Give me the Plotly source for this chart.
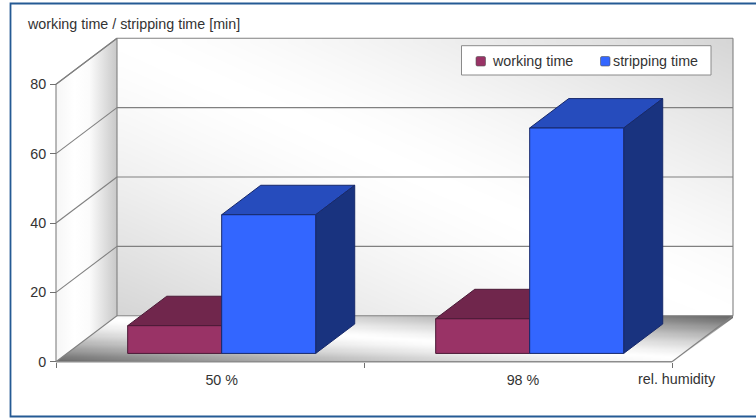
import numpy as np
import plotly.graph_objects as go

# Chart data
categories = ["50 %", "98 %"]
series_names = ["working time", "stripping time"]
working_time = [8, 10]
stripping_time = [40, 65]
y_ticks = [0, 20, 40, 60, 80]

# Page and plot geometry in pixels
W, H = 756, 418
X0_PX, X1_PX = 56, 672
Y0_PX, Y80_PX = 361.7, 84.3
PX_X = (X1_PX - X0_PX) / len(categories)
PX_Y = (Y0_PX - Y80_PX) / 80

# Oblique projection: depth 0 is the front plane, depth 1 the back wall
DX = 61 / PX_X
DY = 46 / PX_Y
BAR_W = 94 / PX_X
BAR_SHIFT = 0.7 / PX_X
D_NEAR, D_FAR = 0.18, 0.82
Y_TOP = 80
LABEL_POS = [0.538, 1.516]


def project(x, v, d):
    return x + d * DX, v + d * DY


def poly(points, **kw):
    xs, ys = zip(*[project(*p) for p in points])
    return go.Scatter(
        x=list(xs) + [xs[0]], y=list(ys) + [ys[0]], mode="lines", fill="toself",
        hoverinfo="skip", showlegend=False, **kw,
    )


def segment(p, q, color="#808080", width=1.1):
    xs, ys = zip(project(*p), project(*q))
    return go.Scatter(x=list(xs), y=list(ys), mode="lines", hoverinfo="skip", showlegend=False,
                      line=dict(color=color, width=width))


GRAY_SCALE = [[0, "#000000"], [1, "#ffffff"]]
fig = go.Figure()

# Back wall shading: light along one diagonal, grey towards the other two corners
nx, ny = 60, 40
xe = np.linspace(0, 2, nx + 1) + DX
ye = np.linspace(0, Y_TOP, ny + 1) + DY
uu, vv = np.meshgrid((np.arange(nx) + 0.5) / nx, (np.arange(ny) + 0.5) / ny)
wall = 255 - 42 * np.abs(uu + vv - 1) ** 1.4
fig.add_trace(go.Heatmap(x=xe, y=ye, z=wall, zmin=0, zmax=255, colorscale=GRAY_SCALE,
                         zsmooth="best", showscale=False, hoverinfo="skip"))

# Floor shading over the bounding box of the floor
fx = np.linspace(0, 2 + DX, nx + 1)
fy = np.linspace(0, DY, ny + 1)
uu, vv = np.meshgrid((np.arange(nx) + 0.5) / nx, (np.arange(ny) + 0.5) / ny)
floor = 255 - 155 * np.abs(uu + vv - 1) ** 1.35
fig.add_trace(go.Heatmap(x=fx, y=fy, z=floor, zmin=0, zmax=255, colorscale=GRAY_SCALE,
                         zsmooth="best", showscale=False, hoverinfo="skip"))

# Mask the floor's bounding box outside the parallelogram
fig.add_trace(go.Scatter(x=[2, 2 + DX + 0.01, 2 + DX + 0.01, 2], y=[-0.3, DY, -0.3, -0.3],
                         mode="lines", fill="toself", fillcolor="#ffffff",
                         line=dict(color="#ffffff", width=0), hoverinfo="skip", showlegend=False))

# Side wall with a horizontal shading
fig.add_trace(poly([(0, 0, 0), (0, Y_TOP, 0), (0, Y_TOP, 1), (0, 0, 1)],
                   line=dict(color="#808080", width=1.1),
                   fillgradient=dict(type="horizontal", colorscale=[
                       [0, "#f6f6f6"], [0.3, "#ffffff"], [0.55, "#fbfbfb"], [1, "#c8c8c8"]])))

# Gridlines on the side wall and back wall, then the box outline
for v in y_ticks[1:]:
    fig.add_trace(segment((0, v, 0), (0, v, 1)))
    fig.add_trace(segment((0, v, 1), (2, v, 1)))
fig.add_trace(segment((0, 0, 1), (2, 0, 1)))
fig.add_trace(segment((2, 0, 1), (2, Y_TOP, 1)))
fig.add_trace(segment((0, 0, 0), (2, 0, 0), color="#8c8c8c", width=1.5))
fig.add_trace(segment((2, 0, 0), (2, 0, 1)))


def bar(left, height, front, top, side, edge):
    right = left + BAR_W
    fig.add_trace(poly([(left, height, D_NEAR), (left, height, D_FAR), (right, height, D_FAR), (right, height, D_NEAR)],
                       fillcolor=top, line=dict(color=edge, width=1)))
    fig.add_trace(poly([(right, 0, D_NEAR), (right, height, D_NEAR), (right, height, D_FAR), (right, 0, D_FAR)],
                       fillcolor=side, line=dict(color=edge, width=1)))
    fig.add_trace(poly([(left, 0, D_NEAR), (left, height, D_NEAR), (right, height, D_NEAR), (right, 0, D_NEAR)],
                       fillcolor=front, line=dict(color=edge, width=1)))


for i in range(len(categories)):
    centre = i + 0.5 + BAR_SHIFT
    bar(centre - BAR_W, working_time[i], "#993366", "#70264c", "#70264c", "#4a1a36")
    bar(centre, stripping_time[i], "#3366ff", "#264cbd", "#19337f", "#17296b")

FONT = dict(family="Liberation Sans, Arial, sans-serif", size=14.3, color="#333333")


def px_x(x):
    return x / W


def px_y(y):
    return 1 - y / H


def swatch(x0, y0, size, color):
    # Small square with rounded corners, placed in page fractions
    r = 1.5
    x1, y1 = x0 + size, y0 + size
    pts = [
        f"M {px_x(x0 + r)},{px_y(y0)}", f"L {px_x(x1 - r)},{px_y(y0)}",
        f"Q {px_x(x1)},{px_y(y0)} {px_x(x1)},{px_y(y0 + r)}", f"L {px_x(x1)},{px_y(y1 - r)}",
        f"Q {px_x(x1)},{px_y(y1)} {px_x(x1 - r)},{px_y(y1)}", f"L {px_x(x0 + r)},{px_y(y1)}",
        f"Q {px_x(x0)},{px_y(y1)} {px_x(x0)},{px_y(y1 - r)}", f"L {px_x(x0)},{px_y(y0 + r)}",
        f"Q {px_x(x0)},{px_y(y0)} {px_x(x0 + r)},{px_y(y0)} Z",
    ]
    return dict(type="path", xref="paper", yref="paper", path=" ".join(pts), fillcolor=color,
                line=dict(color="#555555", width=0.6))


def label(text, x, y):
    return dict(text=text, xref="paper", yref="paper", x=px_x(x), y=px_y(y), xanchor="left",
                yanchor="middle", showarrow=False, font=FONT)


fig.update_layout(
    width=W, height=H, margin=dict(l=0, r=0, t=0, b=0), autosize=False,
    paper_bgcolor="#ffffff", plot_bgcolor="#ffffff", font=FONT, showlegend=False,
    xaxis=dict(range=[-X0_PX / PX_X, (W - X0_PX) / PX_X], tickmode="array",
               tickvals=LABEL_POS, ticktext=categories,
               ticks="", showgrid=False, zeroline=False, showline=False, anchor="free",
               position=(H - Y0_PX) / H, ticklabelstandoff=8,
               minor=dict(tickmode="array", tickvals=[0, 1, 2], ticks="outside", ticklen=5,
                          tickcolor="#707070", tickwidth=1, showgrid=False)),
    yaxis=dict(range=[(Y0_PX - H) / PX_Y, Y0_PX / PX_Y], tickmode="array", tickvals=y_ticks,
               ticks="outside", ticklen=6, tickcolor="#707070", showgrid=False, zeroline=False,
               showline=False, anchor="free", position=X0_PX / W, ticklabelstandoff=1),
    annotations=[
        label("working time / stripping time [min]", 24.5, 23.5),
        label("rel. humidity", 636, 378.5),
        label(series_names[0], 489.5, 61),
        label(series_names[1], 610.5, 61),
    ],
    shapes=[
        # Frame around the chart, open on the right
        dict(type="path", xref="paper", yref="paper",
             path=f"M 1,{px_y(3.5)} L {px_x(10.5)},{px_y(3.5)} L {px_x(10.5)},{px_y(416.5)} L 1,{px_y(416.5)}",
             line=dict(color="#255a94", width=1.8)),
        # Legend box and colour keys
        dict(type="rect", xref="paper", yref="paper", x0=px_x(461.5), x1=px_x(711), y0=px_y(75), y1=px_y(45.7),
             fillcolor="#ffffff", line=dict(color="#8a8a8a", width=1)),
        swatch(476, 56.5, 9.5, "#993366"),
        swatch(600.5, 56.5, 9.5, "#3366ff"),
    ],
)

fig.write_html("out.html")
